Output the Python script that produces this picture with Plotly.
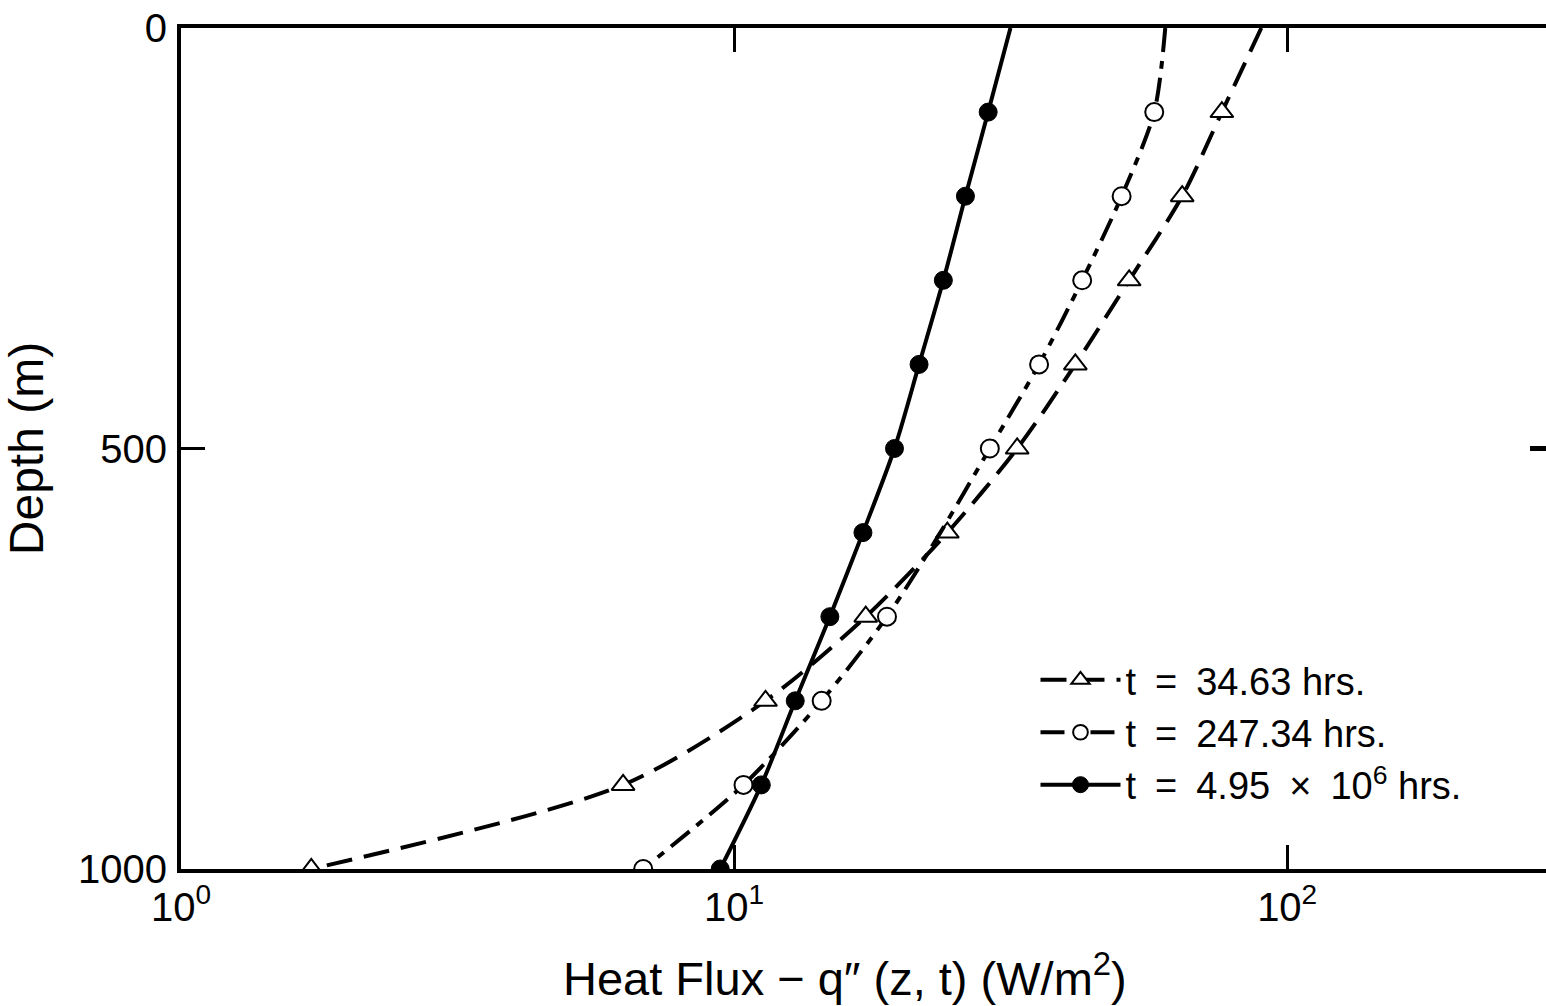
import plotly.graph_objects as go

depth = [0, 100, 200, 300, 400, 500, 600, 700, 800, 900, 1000]
flux_34 = [89.8, 76.2, 64.6, 51.8, 41.4, 32.5, 24.3, 17.3, 11.4, 6.30, 1.72]
flux_247 = [60.2, 57.5, 50.2, 42.6, 35.6, 29.0, 23.6, 18.9, 14.4, 10.4, 6.85]
flux_495 = [31.6, 28.8, 26.2, 23.9, 21.6, 19.5, 17.1, 14.9, 12.9, 11.2, 9.44]
names = ["t\u2002=\u200234.63 hrs.", "t\u2002=\u2002247.34 hrs.",
         "t\u2002=\u20024.95\u2002×\u200210<sup>6</sup> hrs."]
x_title = "Heat Flux − q″ (z, t) (W/m<sup>2</sup>)"
y_title = "Depth (m)"

tri_size = [0] + [20] * 10
circ_size_247 = [0, 18, 18, 18, 18, 18, 0, 18, 18, 18, 18]
circ_size = [0] + [18] * 10

FONT = "Liberation Sans, Arial, sans-serif"

fig = go.Figure()
fig.add_trace(go.Scatter(
    x=flux_34, y=depth, name=names[0], mode="lines+markers",
    line=dict(color="black", width=4, dash="26px,12px", shape="spline", smoothing=0.8),
    marker=dict(symbol="triangle-up", size=tri_size, color="white", opacity=1,
                line=dict(color="black", width=2)),
))
fig.add_trace(go.Scatter(
    x=flux_247, y=depth, name=names[1], mode="lines+markers",
    line=dict(color="black", width=4, dash="24px,9px,8px,9px", shape="spline", smoothing=0.8),
    marker=dict(symbol="circle", size=circ_size_247, color="white", opacity=1,
                line=dict(color="black", width=2)),
))
fig.add_trace(go.Scatter(
    x=flux_495, y=depth, name=names[2], mode="lines+markers",
    line=dict(color="black", width=4, shape="spline", smoothing=0.8),
    marker=dict(symbol="circle", size=circ_size, color="black", opacity=1,
                line=dict(color="black", width=1)),
))
# invisible trace to carry the right-side tick
fig.add_trace(go.Scatter(x=[10], y=[500], yaxis="y2", mode="markers",
                         marker=dict(opacity=0), showlegend=False, hoverinfo="skip"))

fig.add_annotation(text=x_title, xref="paper", yref="paper", x=0.4864, y=-0.126,
                   xanchor="center", yanchor="middle", showarrow=False,
                   font=dict(family=FONT, size=47, color="black"))

fig.update_layout(
    width=1546, height=1006,
    margin=dict(l=181, r=0, t=28, b=137),
    paper_bgcolor="white", plot_bgcolor="white",
    font=dict(family=FONT, size=40, color="black"),
    showlegend=True,
    legend=dict(x=0.626, y=0.262, xanchor="left", yanchor="top",
                font=dict(size=38), bgcolor="rgba(0,0,0,0)", tracegroupgap=0,
                itemwidth=80),
    xaxis=dict(type="log", range=[0, 2.468], tickvals=[1, 10, 100],
               ticktext=["10<sup>0</sup>", "10<sup>1</sup>", "10<sup>2</sup>"],
               ticks="inside", ticklen=24, tickwidth=2.5, tickcolor="black",
               showline=True, linecolor="black", linewidth=4, mirror="ticks",
               showgrid=False, zeroline=False),
    yaxis=dict(range=[1000, 0], tickvals=[0, 500, 1000],
               ticks="inside", ticklen=24, tickwidth=2.5, tickcolor="black",
               ticklabelstandoff=2,
               showline=True, linecolor="black", linewidth=4,
               showgrid=False, zeroline=False,
               title=dict(text=y_title, standoff=26)),
    yaxis2=dict(range=[1000, 0], overlaying="y", side="right", tickvals=[500],
                ticks="inside", ticklen=16, tickwidth=5, tickcolor="black",
                showticklabels=False, showgrid=False, zeroline=False, showline=False),
)

fig.write_html("out.html", config={"displayModeBar": False},
               post_script="document.body.style.margin='0';document.body.style.overflow='hidden';")
